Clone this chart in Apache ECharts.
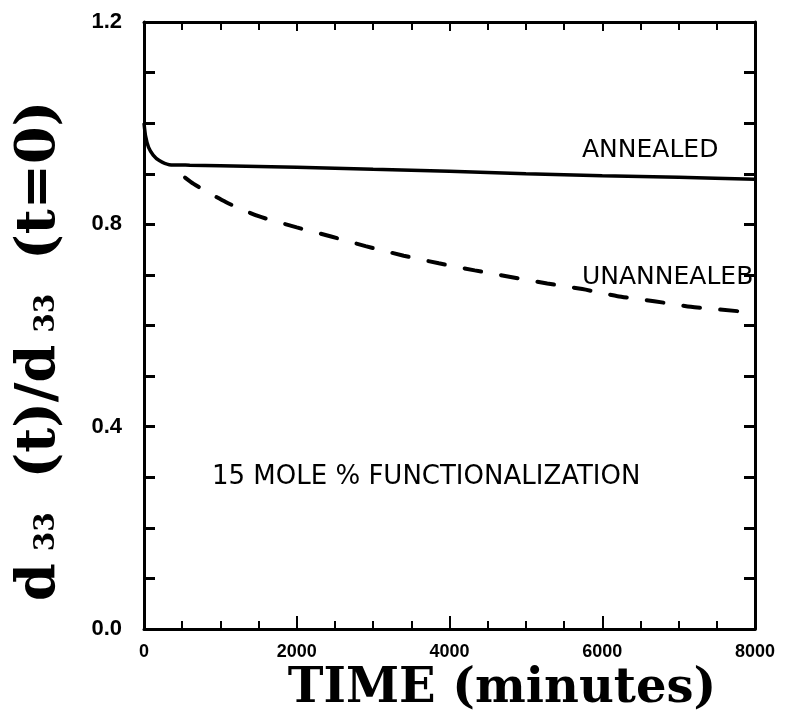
<!DOCTYPE html>
<html>
<head>
<meta charset="utf-8">
<script src="https://cdn.jsdelivr.net/npm/echarts@6/dist/echarts.min.js"></script>
<style>
  html, body { margin: 0; padding: 0; background: #fff; }
  #chart { width: 794px; height: 714px; }
</style>
</head>
<body>
<div id="chart"></div>
<script>
// values
var timeAnnealed = [0, 20, 60, 120, 200, 330, 600, 1000, 2000, 3000, 4000, 5000, 6000, 7000, 8000]
var annealed = [1.00, 0.975, 0.952, 0.937, 0.926, 0.918, 0.917, 0.916, 0.913, 0.909, 0.905, 0.900, 0.896, 0.893, 0.889]

var timeUnannealed = [330, 650, 1070, 1500, 2000, 2450, 2900, 3400, 3860, 4330, 4800, 5280, 5740, 6200, 6680, 7160, 7800]
var unannealed = [0.917, 0.880, 0.844, 0.816, 0.794, 0.776, 0.757, 0.738, 0.723, 0.709, 0.696, 0.683, 0.672, 0.658, 0.648, 0.637, 0.628]

var xTicks = [0, 2000, 4000, 6000, 8000]
var yTicks = [0.0, 0.4, 0.8, 1.2]

function pairs(xs, ys) {
  return xs.map(function (x, i) { return [x, ys[i]] })
}

var chart = echarts.init(document.getElementById('chart'))

var frameLine = { show: true, onZero: false, lineStyle: { color: '#000', width: 3 }}

chart.setOption({
  animation: false,
  backgroundColor: '#fff',
  grid: { left: 144, right: 39, top: 22, bottom: 85 },
  xAxis: [{
    type: 'value',
    min: xTicks[0],
    max: xTicks[xTicks.length - 1],
    interval: 2000,
    axisLine: frameLine,
    axisTick: { inside: true, length: 13, lineStyle: { color: '#000', width: 2 }},
    minorTick: { show: true, splitNumber: 4, length: 8, lineStyle: { color: '#000', width: 2 }},
    splitLine: { show: false },
    axisLabel: {
      margin: 14, color: '#000', fontFamily: 'Liberation Sans', fontWeight: 'bold', fontSize: 18,
      formatter: function (v) { return String(v) }
    }
  }, {
    type: 'value',
    position: 'top',
    min: 0,
    max: 8000,
    interval: 2000,
    axisLine: frameLine,
    axisTick: { inside: true, length: 9, lineStyle: { color: '#000', width: 2 }},
    minorTick: { show: true, splitNumber: 4, length: 8, lineStyle: { color: '#000', width: 2 }},
    splitLine: { show: false },
    axisLabel: { show: false }
  }],
  yAxis: [{
    type: 'value',
    min: yTicks[0],
    max: yTicks[yTicks.length - 1],
    interval: 0.4,
    axisLine: frameLine,
    axisTick: { inside: true, length: 11, lineStyle: { color: '#000', width: 3 }},
    minorTick: { show: true, splitNumber: 4, length: 11, lineStyle: { color: '#000', width: 3 }},
    splitLine: { show: false },
    axisLabel: {
      margin: 22, color: '#000', fontFamily: 'Liberation Sans', fontWeight: 'bold', fontSize: 22,
      formatter: function (v) { return v.toFixed(1) }
    }
  }, {
    type: 'value',
    position: 'right',
    min: 0,
    max: 1.2,
    interval: 0.4,
    axisLine: frameLine,
    axisTick: { inside: true, length: 11, lineStyle: { color: '#000', width: 3 }},
    minorTick: { show: true, splitNumber: 4, length: 11, lineStyle: { color: '#000', width: 3 }},
    splitLine: { show: false },
    axisLabel: { show: false }
  }],
  series: [
    {
      name: 'ANNEALED',
      type: 'line',
      data: pairs(timeAnnealed, annealed),
      showSymbol: false,
      smooth: 0.2,
      lineStyle: { color: '#000', width: 3.5 }
    },
    {
      name: 'UNANNEALED',
      type: 'line',
      data: pairs(timeUnannealed, unannealed),
      showSymbol: false,
      smooth: 0.2,
      lineStyle: { color: '#000', width: 4, type: [17, 20], dashOffset: 17, cap: 'round' }
    }
  ],
  graphic: [
    {
      type: 'text', left: 582, top: 138,
      style: { text: 'ANNEALED', fill: '#000', font: '25px "DejaVu Sans"' }
    },
    {
      type: 'text', left: 582, top: 265,
      style: { text: 'UNANNEALEB', fill: '#000', font: '25px "DejaVu Sans"' }
    },
    {
      type: 'text', left: 212, top: 464,
      style: { text: '15 MOLE % FUNCTIONALIZATION', fill: '#000', font: '26px "DejaVu Sans"' }
    },
    {
      type: 'text', x: 502, y: 690,
      style: {
        text: 'TIME (minutes)', fill: '#000', align: 'center', verticalAlign: 'middle',
        font: 'bold 48px "DejaVu Serif"'
      }
    },
    {
      type: 'text', x: 40, y: 351, rotation: Math.PI / 2,
      style: {
        text: '{m|d}{s|33}{p|(t)/d}{s|33}{p|(t=0)}',
        fill: '#000', align: 'center', verticalAlign: 'middle',
        rich: {
          m: { fontFamily: 'DejaVu Serif', fontWeight: 'bold', fontSize: 54, verticalAlign: 'bottom', fill: '#000' },
          p: { fontFamily: 'DejaVu Serif', fontWeight: 'bold', fontSize: 54, verticalAlign: 'bottom', fill: '#000', padding: [0, 0, 0, 32] },
          s: { fontFamily: 'DejaVu Serif', fontWeight: 'bold', fontSize: 28, verticalAlign: 'bottom', fill: '#000', padding: [0, 2, 6, 12] }
        }
      }
    }
  ]
})
</script>
</body>
</html>
